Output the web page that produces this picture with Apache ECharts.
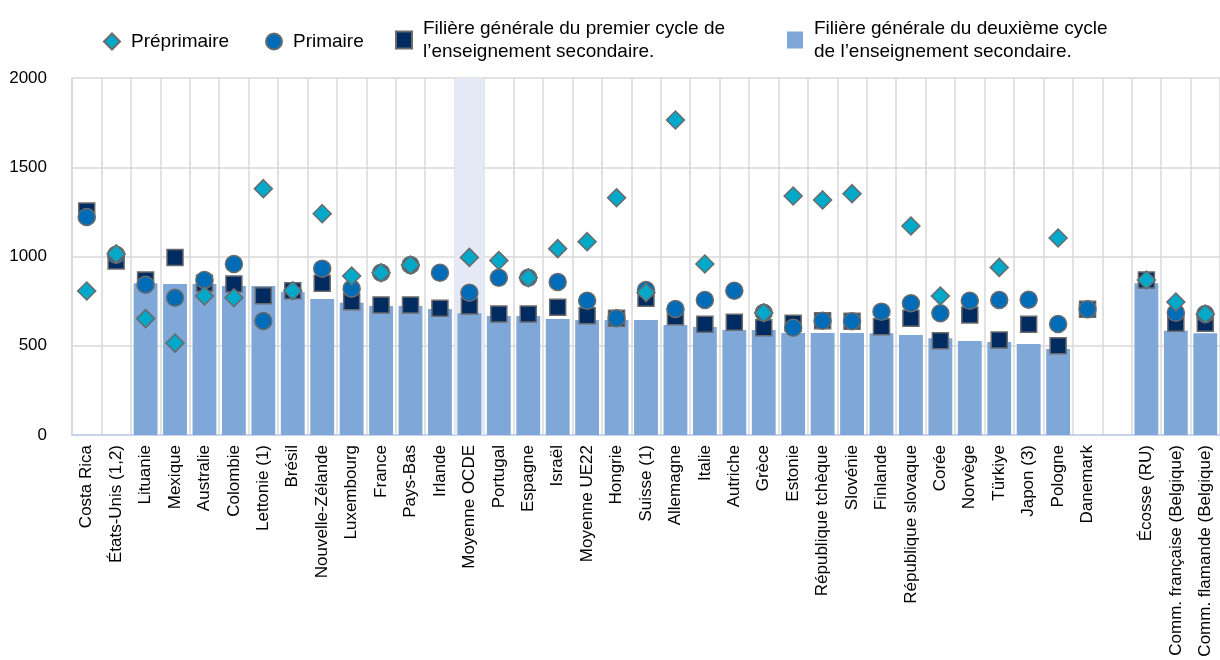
<!DOCTYPE html>
<html>
<head>
<meta charset="utf-8">
<script src="https://cdn.jsdelivr.net/npm/echarts@6/dist/echarts.min.js"></script>
<style>
html,body{margin:0;padding:0;background:#fff;}
#chart{width:1220px;height:660px;}
</style>
</head>
<body>
<div id="chart"></div>
<script>
const categories = ['Costa Rica','États-Unis (1,2)','Lituanie','Mexique','Australie','Colombie','Lettonie (1)','Brésil','Nouvelle-Zélande','Luxembourg','France','Pays-Bas','Irlande','Moyenne OCDE','Portugal','Espagne','Israël','Moyenne UE22','Hongrie','Suisse (1)','Allemagne','Italie','Autriche','Grèce','Estonie','République tchèque','Slovénie','Finlande','République slovaque','Corée','Norvège','Türkiye','Japon (3)','Pologne','Danemark','','Écosse (RU)','Comm. française (Belgique)','Comm. flamande (Belgique)'];

const preprimaire = [807,1015,652,515,779,769,1380,808,1240,891,909,952,null,995,977,881,1044,1083,1329,799,1765,958,null,685,1339,1317,1352,null,1171,779,null,939,null,1104,null,null,868,745,678];
const primaire = [1221,1010,842,769,868,958,639,null,932,820,909,952,909,797,881,881,857,752,654,812,706,756,808,685,601,640,637,691,738,682,752,756,758,622,704,null,null,685,678];
const premierCycle = [1255,975,868,995,850,846,780,808,850,747,728,728,710,723,678,678,715,668,654,766,663,620,631,601,626,640,637,607,654,528,672,532,620,500,704,null,868,626,626];
const deuxiemeCycle = [null,null,850,846,846,835,835,801,762,741,723,723,706,682,667,667,650,644,644,644,616,605,588,588,571,571,571,570,560,542,527,521,510,482,null,null,850,584,570];

const yTicks = [0,500,1000,1500,2000];
const highlightCategory = 'Moyenne OCDE';

const names = ['Préprimaire','Primaire','Filière générale du premier cycle de\nl’enseignement secondaire.','Filière générale du deuxième cycle\nde l’enseignement secondaire.'];

const clean = a => a.map(v => v == null ? '-' : v);
const FONT = '"Liberation Sans", Arial, sans-serif';
const border = {borderColor:'#6b6b6b', borderWidth:1.5, opacity:1};

function legend(name, left, icon, w, h, top) {
  return {
    data:[{name:name, icon:icon}], left:left, top:top, itemWidth:w, itemHeight:h,
    selectedMode:false, padding:0,
    textStyle:{fontFamily:FONT, fontSize:19, color:'#000', lineHeight:23, padding:[0,0,0,6]}
  };
}

const chart = echarts.init(document.getElementById('chart'), null, {renderer:'canvas'});
chart.setOption({
  animation:false,
  backgroundColor:'#fff',
  textStyle:{fontFamily:FONT},
  legend:[
    legend(names[0], 103, 'diamond', 16, 16, 30),
    legend(names[1], 265, 'circle', 16, 16, 30),
    legend(names[2], 395, 'rect', 16, 17, 17),
    legend(names[3], 787, 'rect', 16, 17, 17)
  ],
  grid:{left:72, right:-9, top:78, bottom:225, containLabel:false},
  xAxis:[{
    type:'category', data:categories,
    axisLine:{show:true, lineStyle:{color:'#c6d3ea', width:2}},
    axisTick:{show:false},
    splitLine:{show:true, interval:0, lineStyle:{color:'#d9d9d9', width:1.5}},
    axisLabel:{interval:0, rotate:90, margin:10, fontSize:17, color:'#000', fontFamily:FONT}
  },{
    type:'category', data:categories, show:false
  }],
  yAxis:{
    type:'value', min:yTicks[0], max:yTicks[yTicks.length-1], interval:500,
    axisLine:{show:true, lineStyle:{color:'#d9d9d9', width:1.5}},
    axisTick:{show:false},
    splitLine:{show:true, lineStyle:{color:'#d9d9d9', width:1.5}},
    axisLabel:{fontSize:17, color:'#000', margin:25, fontFamily:FONT, formatter:v => String(v)}
  },
  series:[
    {
      type:'bar', xAxisIndex:1, silent:true, barWidth:'100%', z:0,
      data:categories.map(c => c === highlightCategory ? yTicks[yTicks.length-1] : '-'),
      itemStyle:{color:'#e4e9f5'}, tooltip:{show:false}
    },
    {
      name:names[3], type:'bar', data:clean(deuxiemeCycle), barWidth:'81%',
      itemStyle:{color:'#7fa7d8'}, z:2
    },
    {
      name:names[2], type:'scatter', data:clean(premierCycle), symbol:'rect', symbolSize:16,
      itemStyle:Object.assign({color:'#002b60'}, border), z:3
    },
    {
      name:names[1], type:'scatter', data:clean(primaire), symbol:'circle', symbolSize:17,
      itemStyle:Object.assign({color:'#006bb6'}, border), z:4
    },
    {
      name:names[0], type:'scatter', data:clean(preprimaire), symbol:'diamond', symbolSize:[18,18],
      itemStyle:Object.assign({color:'#00a9c9'}, border), z:5
    }
  ]
});
</script>
</body>
</html>
